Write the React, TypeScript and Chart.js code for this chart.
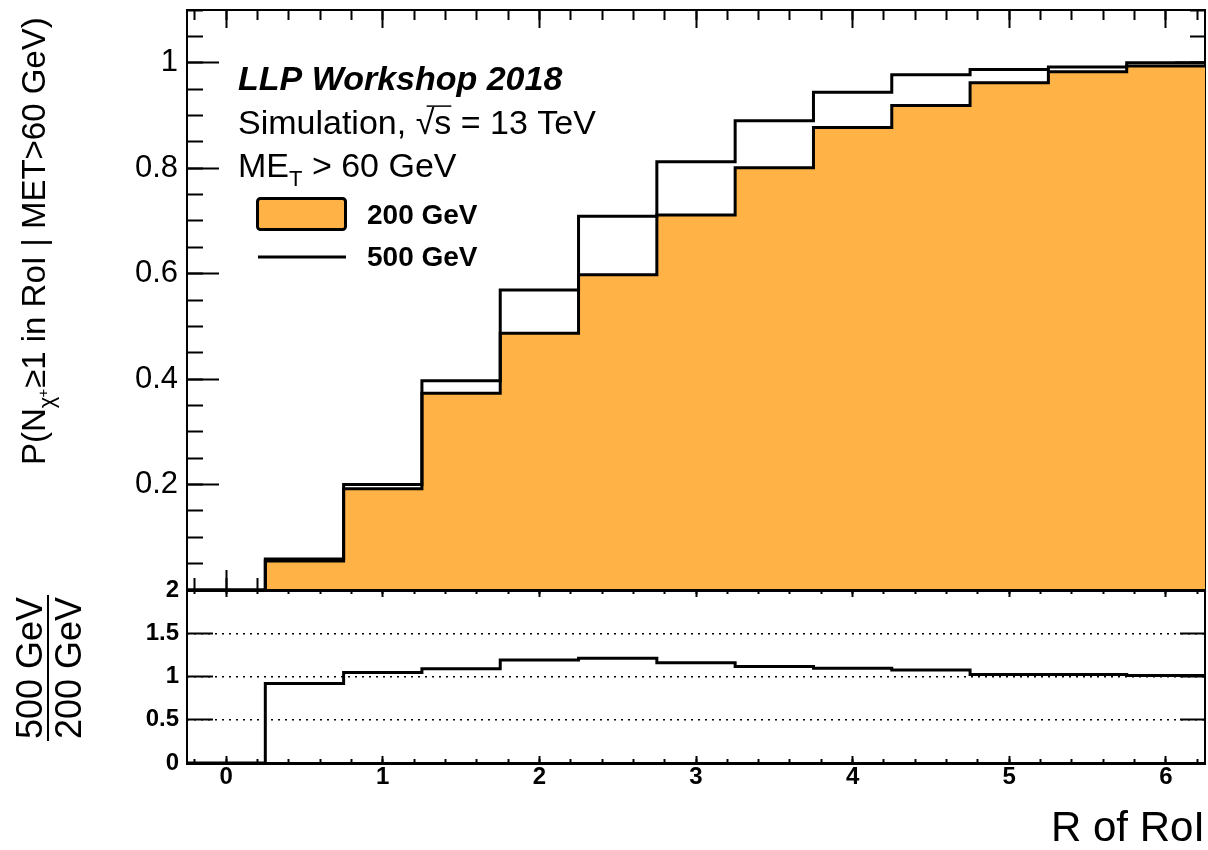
import React, { useEffect, useRef } from "react";
import { Chart, registerables } from "chart.js";

Chart.register(...registerables);

// ---------------- data ----------------
const binCenters = [0, 0.5, 1, 1.5, 2, 2.5, 3, 3.5, 4, 4.5, 5, 5.5, 6];
const BIN_WIDTH = 0.5;
const eff200 = [0, 0.055, 0.192, 0.373, 0.487, 0.598, 0.711, 0.801, 0.877, 0.919, 0.962, 0.983, 0.994];
const eff500 = [0, 0.059, 0.2, 0.397, 0.569, 0.709, 0.812, 0.89, 0.944, 0.977, 0.987, 0.992, 1.0];
const ratio500over200 = [0, 0.92, 1.045, 1.09, 1.19, 1.21, 1.16, 1.115, 1.095, 1.075, 1.023, 1.023, 1.012];
const seriesLabels = ["200 GeV", "500 GeV"];
const upperTickLabels = ["0.2", "0.4", "0.6", "0.8", "1"];
const ratioTickLabels = ["0", "0.5", "1", "1.5", "2"];
const xTickLabels = ["0", "1", "2", "3", "4", "5", "6"];

const X_MIN = -0.25;
const X_MAX = 6.25;
const Y_MAX = 1.1;
const R_MAX = 2;

const FAMILY = "'Liberation Sans', Arial, Helvetica, sans-serif";
const ORANGE = "#FFB347";

Chart.defaults.font.family = FAMILY;

type AnyObj = Record<string, any>;

function stepPoints(vals: number[]) {
  const pts = vals.map((v, i) => ({ x: binCenters[i] - BIN_WIDTH / 2, y: v }));
  pts.push({ x: binCenters[binCenters.length - 1] + BIN_WIDTH / 2, y: vals[vals.length - 1] });
  return pts;
}

const labelFor = (labels: string[]) => (v: number) => {
  const hit = labels.find((l) => Math.abs(Number(l) - v) < 1e-9);
  return hit ?? "";
};

const fit = (w: number | null, h: number | null) => (s: any) => {
  if (w !== null) s.width = w;
  if (h !== null) s.height = h;
  s.paddingTop = 0;
  s.paddingBottom = 0;
  s.paddingLeft = 0;
  s.paddingRight = 0;
};

function axisDef(o: {
  axis: "x" | "y";
  position: string;
  min: number;
  max: number;
  step: number;
  len: number;
  weight: number;
  size: number;
  border?: number;
  labels?: AnyObj;
  title?: AnyObj;
  grid?: AnyObj;
  z?: number;
}) {
  return {
    type: "linear",
    axis: o.axis,
    position: o.position,
    min: o.min,
    max: o.max,
    weight: o.weight,
    z: o.z ?? 1,
    ticks: {
      display: !!o.labels,
      stepSize: o.step,
      includeBounds: false,
      maxTicksLimit: 1000,
      autoSkip: false,
      maxRotation: 0,
      minRotation: 0,
      color: "#000",
      ...(o.labels || {}),
    },
    grid: {
      display: true,
      drawOnChartArea: false,
      drawTicks: o.len !== 0,
      tickLength: -o.len,
      tickWidth: 2,
      tickColor: "#000",
      color: "#000",
      ...(o.grid || {}),
    },
    border: o.border ? { display: true, width: o.border, color: "#000" } : { display: false },
    title: o.title || { display: false },
    afterFit: fit(o.axis === "y" ? o.size : null, o.axis === "x" ? o.size : null),
  };
}

function runs(ctx: CanvasRenderingContext2D, x: number, y: number, parts: { t: string; font: string; dy?: number; dx?: number }[]) {
  let cx = x;
  const pos: number[] = [];
  for (const p of parts) {
    ctx.font = p.font;
    cx += p.dx || 0;
    pos.push(cx);
    ctx.fillText(p.t, cx, y + (p.dy || 0));
    cx += ctx.measureText(p.t).width;
  }
  pos.push(cx);
  return pos;
}

const TXT = 34;

const upperTextPlugin = {
  id: "upperText",
  afterDraw(chart: any) {
    const ctx: CanvasRenderingContext2D = chart.ctx;
    const ds = chart.data.datasets;
    ctx.save();
    ctx.fillStyle = "#000";
    ctx.strokeStyle = "#000";
    ctx.textAlign = "left";
    ctx.textBaseline = "alphabetic";

    // y-axis title (rotated)
    ctx.save();
    ctx.translate(45, 465);
    ctx.rotate(-Math.PI / 2);
    runs(ctx, 0, 0, [
      { t: "P(N", font: `33px ${FAMILY}` },
      { t: "χ", font: `22px ${FAMILY}`, dy: 9 },
      { t: "+", font: `15px ${FAMILY}`, dy: 3, dx: -1 },
      { t: "≥1 in RoI | MET>60 GeV)", font: `33px ${FAMILY}`, dx: 1 },
    ]);
    ctx.restore();

    // header text
    ctx.font = `italic bold ${TXT}px ${FAMILY}`;
    ctx.fillText("LLP Workshop 2018", 238, 90);

    const p = runs(ctx, 238, 134, [
      { t: "Simulation, ", font: `${TXT}px ${FAMILY}` },
      { t: "√", font: `${TXT}px ${FAMILY}` },
      { t: "s", font: `${TXT}px ${FAMILY}` },
      { t: " = 13 TeV", font: `${TXT}px ${FAMILY}` },
    ]);
    ctx.lineWidth = 1.5;
    ctx.beginPath();
    ctx.moveTo(p[1] + 11, 134 - 0.82 * TXT);
    ctx.lineTo(p[3], 134 - 0.82 * TXT);
    ctx.stroke();

    runs(ctx, 238, 177, [
      { t: "ME", font: `${TXT}px ${FAMILY}` },
      { t: "T", font: `22px ${FAMILY}`, dy: 9 },
      { t: " > 60 GeV", font: `${TXT}px ${FAMILY}` },
    ]);

    // legend
    ctx.lineWidth = 3;
    ctx.fillStyle = ds[1].backgroundColor;
    ctx.strokeStyle = ds[1].borderColor;
    ctx.beginPath();
    (ctx as any).roundRect(257.5, 198.5, 88, 31, 3);
    ctx.fill();
    ctx.stroke();
    ctx.strokeStyle = ds[0].borderColor;
    ctx.beginPath();
    ctx.moveTo(258, 257);
    ctx.lineTo(346, 257);
    ctx.stroke();
    ctx.fillStyle = "#000";
    ctx.font = `bold 28px ${FAMILY}`;
    ctx.fillText(ds[1].label, 367, 224);
    ctx.fillText(ds[0].label, 367, 266);
    ctx.restore();
  },
};

const lowerTextPlugin = {
  id: "lowerText",
  afterDraw(chart: any) {
    const ctx: CanvasRenderingContext2D = chart.ctx;
    const ds = chart.data.datasets;
    ctx.save();
    ctx.fillStyle = "#000";
    ctx.strokeStyle = "#000";
    ctx.translate(0, 108);
    ctx.rotate(-Math.PI / 2);
    ctx.textAlign = "center";
    ctx.textBaseline = "alphabetic";
    ctx.font = `36px ${FAMILY}`;
    const num = ds[0].numLabel as string;
    const den = ds[0].denLabel as string;
    const w = Math.max(ctx.measureText(num).width, ctx.measureText(den).width);
    ctx.fillText(num, 0, 42);
    ctx.fillText(den, 0, 81);
    ctx.lineWidth = 2;
    ctx.beginPath();
    ctx.moveTo(-w / 2 - 2, 48);
    ctx.lineTo(w / 2 + 2, 48);
    ctx.stroke();
    ctx.restore();
  },
};

function baseOptions(padding: AnyObj) {
  return {
    responsive: false,
    maintainAspectRatio: false,
    animation: false,
    devicePixelRatio: 1,
    events: [],
    layout: { padding, autoPadding: false },
    plugins: { legend: { display: false }, tooltip: { enabled: false }, title: { display: false } },
  };
}

function upperConfig(): any {
  return {
    type: "line",
    data: {
      datasets: [
        {
          label: seriesLabels[1],
          data: stepPoints(eff500),
          stepped: "before",
          borderColor: "#000",
          borderWidth: 3,
          pointRadius: 0,
          fill: false,
          xAxisID: "x",
          yAxisID: "y",
          borderJoinStyle: "miter",
        },
        {
          label: seriesLabels[0],
          data: stepPoints(eff200),
          stepped: "before",
          borderColor: "#000",
          backgroundColor: ORANGE,
          borderWidth: 3,
          pointRadius: 0,
          fill: "origin",
          xAxisID: "x",
          yAxisID: "y",
          borderJoinStyle: "miter",
        },
      ],
    },
    options: {
      ...baseOptions({ top: 10, bottom: 10, left: 0, right: 3 }),
      scales: {
        x: axisDef({ axis: "x", position: "bottom", min: X_MIN, max: X_MAX, step: 1, len: 20, weight: 2, size: 0, border: 3 }),
        y: axisDef({
          axis: "y", position: "left", min: 0, max: Y_MAX, step: 0.2, len: 32, weight: 2, size: 187, border: 2,
          labels: { callback: labelFor(upperTickLabels), font: { size: 31, family: FAMILY }, padding: 41 },
        }),
        xMinor: axisDef({ axis: "x", position: "bottom", min: X_MIN, max: X_MAX, step: 0.2, len: 12, weight: 0, size: 0 }),
        xTop: axisDef({ axis: "x", position: "top", min: X_MIN, max: X_MAX, step: 1, len: 18, weight: 2, size: 0, border: 2 }),
        xTopMinor: axisDef({ axis: "x", position: "top", min: X_MIN, max: X_MAX, step: 0.2, len: 10, weight: 0, size: 0 }),
        yMinor: axisDef({ axis: "y", position: "left", min: 0, max: Y_MAX, step: 0.05, len: 16, weight: 0, size: 0 }),
        yRight: axisDef({ axis: "y", position: "right", min: 0, max: Y_MAX, step: 0.2, len: 30, weight: 2, size: 0, border: 2 }),
        yRightMinor: axisDef({ axis: "y", position: "right", min: 0, max: Y_MAX, step: 0.05, len: 15, weight: 0, size: 0 }),
      },
    },
    plugins: [upperTextPlugin],
  };
}

function lowerConfig(): any {
  return {
    type: "line",
    data: {
      datasets: [
        {
          label: "ratio",
          numLabel: seriesLabels[1],
          denLabel: seriesLabels[0],
          data: stepPoints(ratio500over200),
          stepped: "before",
          borderColor: "#000",
          borderWidth: 3,
          pointRadius: 0,
          fill: false,
          xAxisID: "x",
          yAxisID: "y",
          borderJoinStyle: "miter",
        },
      ],
    },
    options: {
      ...baseOptions({ top: 30, bottom: 0, left: 0, right: 3 }),
      scales: {
        x: axisDef({
          axis: "x", position: "bottom", min: X_MIN, max: X_MAX, step: 1, len: 7, weight: 2, size: 87, border: 3,
          labels: { callback: labelFor(xTickLabels), font: { size: 24, weight: "bold", family: FAMILY }, padding: 7 },
          title: {
            display: true, text: "R of RoI", align: "end", color: "#000",
            font: { size: 42, family: FAMILY, lineHeight: 1 }, padding: { top: 0, bottom: 0 },
          },
        }),
        y: axisDef({
          axis: "y", position: "left", min: 0, max: R_MAX, step: 0.5, len: 26, weight: 2, size: 187, border: 2,
          labels: { callback: labelFor(ratioTickLabels), font: { size: 24, weight: "bold", family: FAMILY }, padding: 34 },
        }),
        yGrid: {
          ...axisDef({
            axis: "y", position: "left", min: 0, max: R_MAX, step: 0.5, len: 0, weight: 0, size: 0, z: 0,
            grid: {
              drawOnChartArea: true,
              drawTicks: false,
              lineWidth: 1.5,
              color: (c: any) => (c.tick && (c.tick.value === 0 || c.tick.value === R_MAX) ? "rgba(0,0,0,0)" : "#000"),
              borderDash: [2, 5],
            },
          }),
          border: { display: false, dash: [2, 5] },
        },
        xMinor: axisDef({ axis: "x", position: "bottom", min: X_MIN, max: X_MAX, step: 0.2, len: 4, weight: 0, size: 0 }),
        xTop: axisDef({ axis: "x", position: "top", min: X_MIN, max: X_MAX, step: 1, len: 7, weight: 2, size: 0, border: 2 }),
        xTopMinor: axisDef({ axis: "x", position: "top", min: X_MIN, max: X_MAX, step: 0.2, len: 4, weight: 0, size: 0 }),
        yRight: axisDef({ axis: "y", position: "right", min: 0, max: R_MAX, step: 0.5, len: 25, weight: 2, size: 0, border: 2 }),
      },
    },
    plugins: [lowerTextPlugin],
  };
}

export default function App() {
  const refA = useRef<HTMLCanvasElement>(null);
  const refB = useRef<HTMLCanvasElement>(null);
  useEffect(() => {
    const a = new Chart(refA.current as HTMLCanvasElement, upperConfig());
    const b = new Chart(refB.current as HTMLCanvasElement, lowerConfig());
    return () => {
      a.destroy();
      b.destroy();
    };
  }, []);
  return (
    <div style={{ position: "absolute", left: 0, top: 0, width: 1208, height: 850, background: "#fff", overflow: "hidden" }}>
      <canvas ref={refA} width={1208} height={600} style={{ position: "absolute", left: 0, top: 0, width: 1208, height: 600 }} />
      <canvas ref={refB} width={1208} height={290} style={{ position: "absolute", left: 0, top: 560, width: 1208, height: 290 }} />
    </div>
  );
}
